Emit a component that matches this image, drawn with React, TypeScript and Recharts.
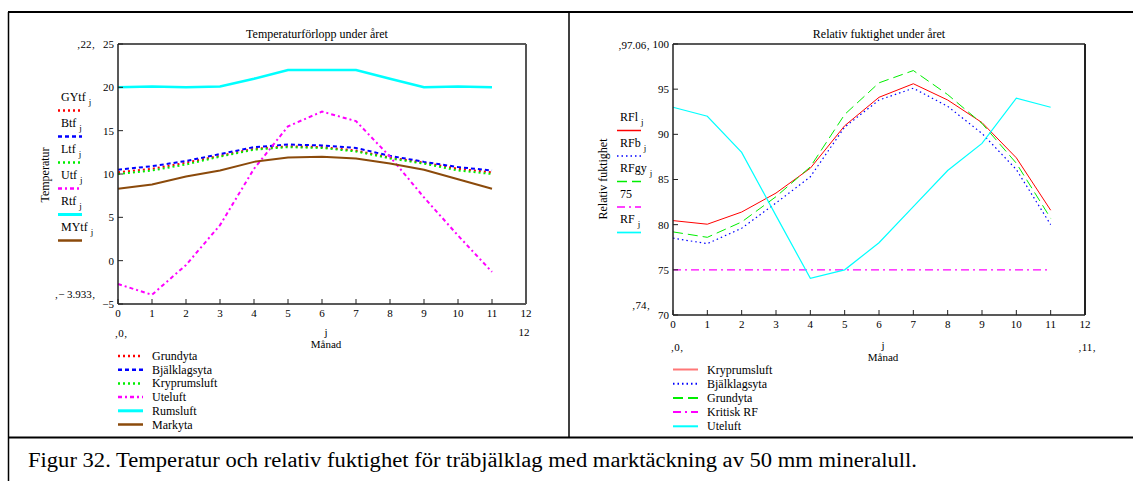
import { LineChart, Line, XAxis, YAxis } from 'recharts';

const FONT = '"Liberation Serif", "Times New Roman", serif';

// month index j
const months = [0, 1, 2, 3, 4, 5, 6, 7, 8, 9, 10, 11];
const xTicks = [0, 1, 2, 3, 4, 5, 6, 7, 8, 9, 10, 11, 12];

// Temperaturförlopp under året
const gytf = [10.2, 10.6, 11.3, 12.1, 12.9, 13.2, 13.1, 12.7, 11.9, 11.3, 10.6, 10.2];
const btf = [10.5, 10.9, 11.5, 12.3, 13.1, 13.4, 13.3, 13.0, 12.1, 11.4, 10.8, 10.4];
const ltf = [10.0, 10.4, 11.1, 12.0, 12.8, 13.1, 13.0, 12.6, 11.8, 11.2, 10.4, 10.0];
const utf = [-2.7, -3.933, -0.5, 4.1, 10.6, 15.5, 17.2, 16.1, 12.0, 7.3, 2.9, -1.3];
const rtf = [20, 20.1, 20, 20.1, 21, 22, 22, 22, 21, 20, 20.1, 20];
const mytf = [8.3, 8.8, 9.7, 10.4, 11.4, 11.9, 12.0, 11.8, 11.2, 10.5, 9.4, 8.3];
const tempTicks = [-5, 0, 5, 10, 15, 20, 25];

// Relativ fuktighet under året
const rfl = [80.45, 80.05, 81.4, 83.5, 86.25, 90.95, 94.1, 95.6, 93.8, 91.3, 87.4, 81.6];
const rfb = [78.5, 77.9, 79.6, 82.4, 85.3, 90.8, 93.8, 95.1, 93.1, 90.1, 86.1, 80.0];
const rfgy = [79.2, 78.6, 80.3, 83.1, 86.4, 92.2, 95.7, 97.06, 94.4, 91.2, 86.8, 80.7];
const kritisk = [75, 75, 75, 75, 75, 75, 75, 75, 75, 75, 75, 75];
const rf = [93, 92, 88, 81, 74.06, 75, 78, 82, 86, 89, 94, 93];
const rfTicks = [70, 75, 80, 85, 90, 95, 100];

const tempData = months.map((j, i) => ({
  j,
  GYtf: gytf[i],
  Btf: btf[i],
  Ltf: ltf[i],
  Utf: utf[i],
  Rtf: rtf[i],
  MYtf: mytf[i],
}));

const rfData = months.map((j, i) => ({
  j,
  RFl: rfl[i],
  RFb: rfb[i],
  RFgy: rfgy[i],
  K75: kritisk[i],
  RF: rf[i],
}));

type Series = {
  key: string;
  sym: string;
  sub?: string;
  name: string;
  color: string;
  dash?: string;
  width: number;
  swatch?: string;
};

const TEMP_SERIES: Series[] = [
  { key: 'GYtf', sym: 'GYtf', sub: 'j', name: 'Grundyta', color: '#ff0000', dash: '2 3', width: 2 },
  { key: 'Btf', sym: 'Btf', sub: 'j', name: 'Bjälklagsyta', color: '#0000ff', dash: '4 3', width: 2 },
  { key: 'Ltf', sym: 'Ltf', sub: 'j', name: 'Kryprumsluft', color: '#00ee00', dash: '2 3', width: 2 },
  { key: 'Utf', sym: 'Utf', sub: 'j', name: 'Uteluft', color: '#ff00ff', dash: '4 3 2 3', width: 2 },
  { key: 'Rtf', sym: 'Rtf', sub: 'j', name: 'Rumsluft', color: '#00ffff', width: 2.5 },
  { key: 'MYtf', sym: 'MYtf', sub: 'j', name: 'Markyta', color: '#8b4a0b', width: 2 },
];

const RF_SERIES: Series[] = [
  { key: 'RFl', sym: 'RFl', sub: 'j', name: 'Kryprumsluft', color: '#ff0000', width: 1, swatch: '#ff7777' },
  { key: 'RFb', sym: 'RFb', sub: 'j', name: 'Bjälklagsyta', color: '#0000ff', dash: '1.5 3', width: 1.2 },
  { key: 'RFgy', sym: 'RFgy', sub: 'j', name: 'Grundyta', color: '#00ee00', dash: '10 5', width: 1 },
  { key: 'K75', sym: '75', name: 'Kritisk RF', color: '#ff00ff', dash: '8 4 2 4', width: 1.2 },
  { key: 'RF', sym: 'RF', sub: 'j', name: 'Uteluft', color: '#00ffff', width: 1.2 },
];

const axisStroke = '#222';
const tickStyle = { fill: '#000', fontSize: 11, fontFamily: FONT };
const minus = (v: number) => String(v).replace('-', '\u2212');

function TempChart() {
  return (
    <LineChart
      width={566}
      height={437}
      data={tempData}
      margin={{ top: 43, right: 39, left: 78, bottom: 113 }}
    >
      <XAxis
        dataKey="j"
        type="number"
        domain={[0, 12]}
        ticks={xTicks}
        height={20}
        tickSize={-5}
        tickMargin={10}
        tick={tickStyle}
        axisLine={{ stroke: axisStroke, strokeWidth: 1.5 }}
        tickLine={{ stroke: axisStroke }}
      />
      <XAxis
        xAxisId="t"
        orientation="top"
        dataKey="j"
        type="number"
        domain={[0, 12]}
        ticks={xTicks}
        height={1}
        tickSize={-5}
        tick={false}
        axisLine={{ stroke: axisStroke, strokeWidth: 1.5 }}
        tickLine={{ stroke: axisStroke }}
      />
      <YAxis
        type="number"
        domain={[-5, 25]}
        ticks={tempTicks}
        width={40}
        tickSize={-5}
        tickMargin={9}
        tick={tickStyle}
        tickFormatter={minus}
        axisLine={{ stroke: axisStroke, strokeWidth: 1.5 }}
        tickLine={{ stroke: axisStroke }}
      />
      <YAxis
        yAxisId="r"
        orientation="right"
        type="number"
        domain={[-5, 25]}
        ticks={tempTicks}
        width={1}
        tickSize={-6}
        tick={false}
        axisLine={{ stroke: '#555', strokeWidth: 2 }}
        tickLine={{ stroke: '#555' }}
      />
      {TEMP_SERIES.map((s) => (
        <Line
          key={s.key}
          dataKey={s.key}
          type="linear"
          stroke={s.color}
          strokeWidth={s.width}
          strokeDasharray={s.dash}
          dot={false}
          isAnimationActive={false}
        />
      ))}
    </LineChart>
  );
}

function RfChart() {
  return (
    <LineChart
      width={564}
      height={437}
      data={rfData}
      margin={{ top: 43, right: 47, left: 64, bottom: 102 }}
    >
      <XAxis
        dataKey="j"
        type="number"
        domain={[0, 12]}
        ticks={xTicks}
        height={20}
        tickSize={-5}
        tickMargin={10}
        tick={tickStyle}
        axisLine={{ stroke: axisStroke, strokeWidth: 1.5 }}
        tickLine={{ stroke: axisStroke }}
      />
      <XAxis
        xAxisId="t"
        orientation="top"
        dataKey="j"
        type="number"
        domain={[0, 12]}
        ticks={xTicks}
        height={1}
        tickSize={-5}
        tick={false}
        axisLine={{ stroke: axisStroke, strokeWidth: 1.5 }}
        tickLine={{ stroke: axisStroke }}
      />
      <YAxis
        type="number"
        domain={[70, 100]}
        ticks={rfTicks}
        width={40}
        tickSize={-5}
        tickMargin={9}
        tick={tickStyle}
        axisLine={{ stroke: axisStroke, strokeWidth: 1.5 }}
        tickLine={{ stroke: axisStroke }}
      />
      <YAxis
        yAxisId="r"
        orientation="right"
        type="number"
        domain={[70, 100]}
        ticks={rfTicks}
        width={1}
        tickSize={-6}
        tick={false}
        axisLine={{ stroke: axisStroke, strokeWidth: 2 }}
        tickLine={{ stroke: axisStroke }}
      />
      {RF_SERIES.map((s) => (
        <Line
          key={s.key}
          dataKey={s.key}
          type="linear"
          stroke={s.color}
          strokeWidth={s.width}
          strokeDasharray={s.dash}
          dot={false}
          isAnimationActive={false}
        />
      ))}
    </LineChart>
  );
}

// symbol legend beside the y axis (text with a line below)
function SymbolLegend({ series, x, y0, step }: { series: Series[]; x: number; y0: number; step: number }) {
  return (
    <g>
      {series.map((s, i) => {
        const ty = y0 + i * step;
        return (
          <g key={s.key}>
            <text x={x + 3} y={ty + 4} fontSize={12}>
              {s.sym}
              {s.sub && (
                <tspan dx={3} dy={4} fontSize={9}>
                  {s.sub}
                </tspan>
              )}
            </text>
            <line
              x1={x}
              x2={x + 24}
              y1={ty + 13.5}
              y2={ty + 13.5}
              stroke={s.color}
              strokeWidth={s.width + 0.5}
              strokeDasharray={s.dash}
            />
          </g>
        );
      })}
    </g>
  );
}

function NameLegend({ series, x, y0, step }: { series: Series[]; x: number; y0: number; step: number }) {
  return (
    <g>
      {series.map((s, i) => {
        const ty = y0 + i * step;
        return (
          <g key={s.key}>
            <line
              x1={x}
              x2={x + 25}
              y1={ty}
              y2={ty}
              stroke={s.swatch ?? s.color}
              strokeWidth={Math.max(s.width, 1.5) + 0.5}
              strokeDasharray={s.dash}
            />
            <text x={x + 34} y={ty + 4} fontSize={12}>
              {s.name}
            </text>
          </g>
        );
      })}
    </g>
  );
}

export default function App() {
  return (
    <div
      style={{
        position: 'absolute',
        left: 0,
        top: 0,
        width: 1133,
        height: 481,
        background: '#fff',
        fontFamily: FONT,
        overflow: 'hidden',
      }}
    >
      <div style={{ position: 'absolute', left: 0, top: 0 }}>
        <TempChart />
      </div>
      <div style={{ position: 'absolute', left: 569, top: 0 }}>
        <RfChart />
      </div>
      <svg
        width={1133}
        height={481}
        style={{ position: 'absolute', left: 0, top: 0, pointerEvents: 'none', fontFamily: FONT }}
      >
        {/* frame */}
        <line x1={8} x2={1133} y1={12} y2={12} stroke="#000" strokeWidth={2} />
        <line x1={8.5} x2={8.5} y1={12} y2={481} stroke="#000" strokeWidth={1.5} />
        <line x1={569} x2={569} y1={12} y2={437} stroke="#000" strokeWidth={1.5} />
        <line x1={8} x2={1133} y1={437.5} y2={437.5} stroke="#000" strokeWidth={2} />

        {/* left panel */}
        <text x={317} y={38} fontSize={12} textAnchor="middle">
          Temperaturförlopp under året
        </text>
        <text x={86} y={48} fontSize={11} textAnchor="middle">‚22‚</text>
        <text x={75} y={298} fontSize={11} textAnchor="middle">‚− 3.933‚</text>
        <text transform="translate(49,175) rotate(-90)" fontSize={12} textAnchor="middle">
          Temperatur
        </text>
        <SymbolLegend series={TEMP_SERIES} x={58} y0={97} step={26} />
        <text x={121} y={337} fontSize={11} textAnchor="middle">‚0‚</text>
        <text x={326} y={336} fontSize={11} textAnchor="middle">j</text>
        <text x={326} y={348} fontSize={11} textAnchor="middle">Månad</text>
        <text x={524} y={336} fontSize={11} textAnchor="middle">12</text>
        <NameLegend series={TEMP_SERIES} x={118} y0={356} step={13.7} />

        {/* right panel */}
        <text x={879} y={38} fontSize={12} textAnchor="middle">
          Relativ fuktighet under året
        </text>
        <text x={634} y={49} fontSize={11} textAnchor="middle">‚97.06‚</text>
        <text x={641} y={309} fontSize={11} textAnchor="middle">‚74‚</text>
        <text transform="translate(607,179) rotate(-90)" fontSize={12} textAnchor="middle">
          Relativ fuktighet
        </text>
        <SymbolLegend series={RF_SERIES} x={617} y0={117} step={25.5} />
        <text x={677} y={351} fontSize={11} textAnchor="middle">‚0‚</text>
        <text x={883} y={349} fontSize={11} textAnchor="middle">j</text>
        <text x={883} y={361} fontSize={11} textAnchor="middle">Månad</text>
        <text x={1087} y={351} fontSize={11} textAnchor="middle">‚11‚</text>
        <NameLegend series={RF_SERIES} x={673} y0={369.5} step={14.2} />

        {/* caption */}
        <text x={28} y={467} fontSize={20} textLength={889} lengthAdjust="spacingAndGlyphs">
          Figur 32. Temperatur och relativ fuktighet för träbjälklag med marktäckning av 50 mm mineralull.
        </text>
      </svg>
    </div>
  );
}
